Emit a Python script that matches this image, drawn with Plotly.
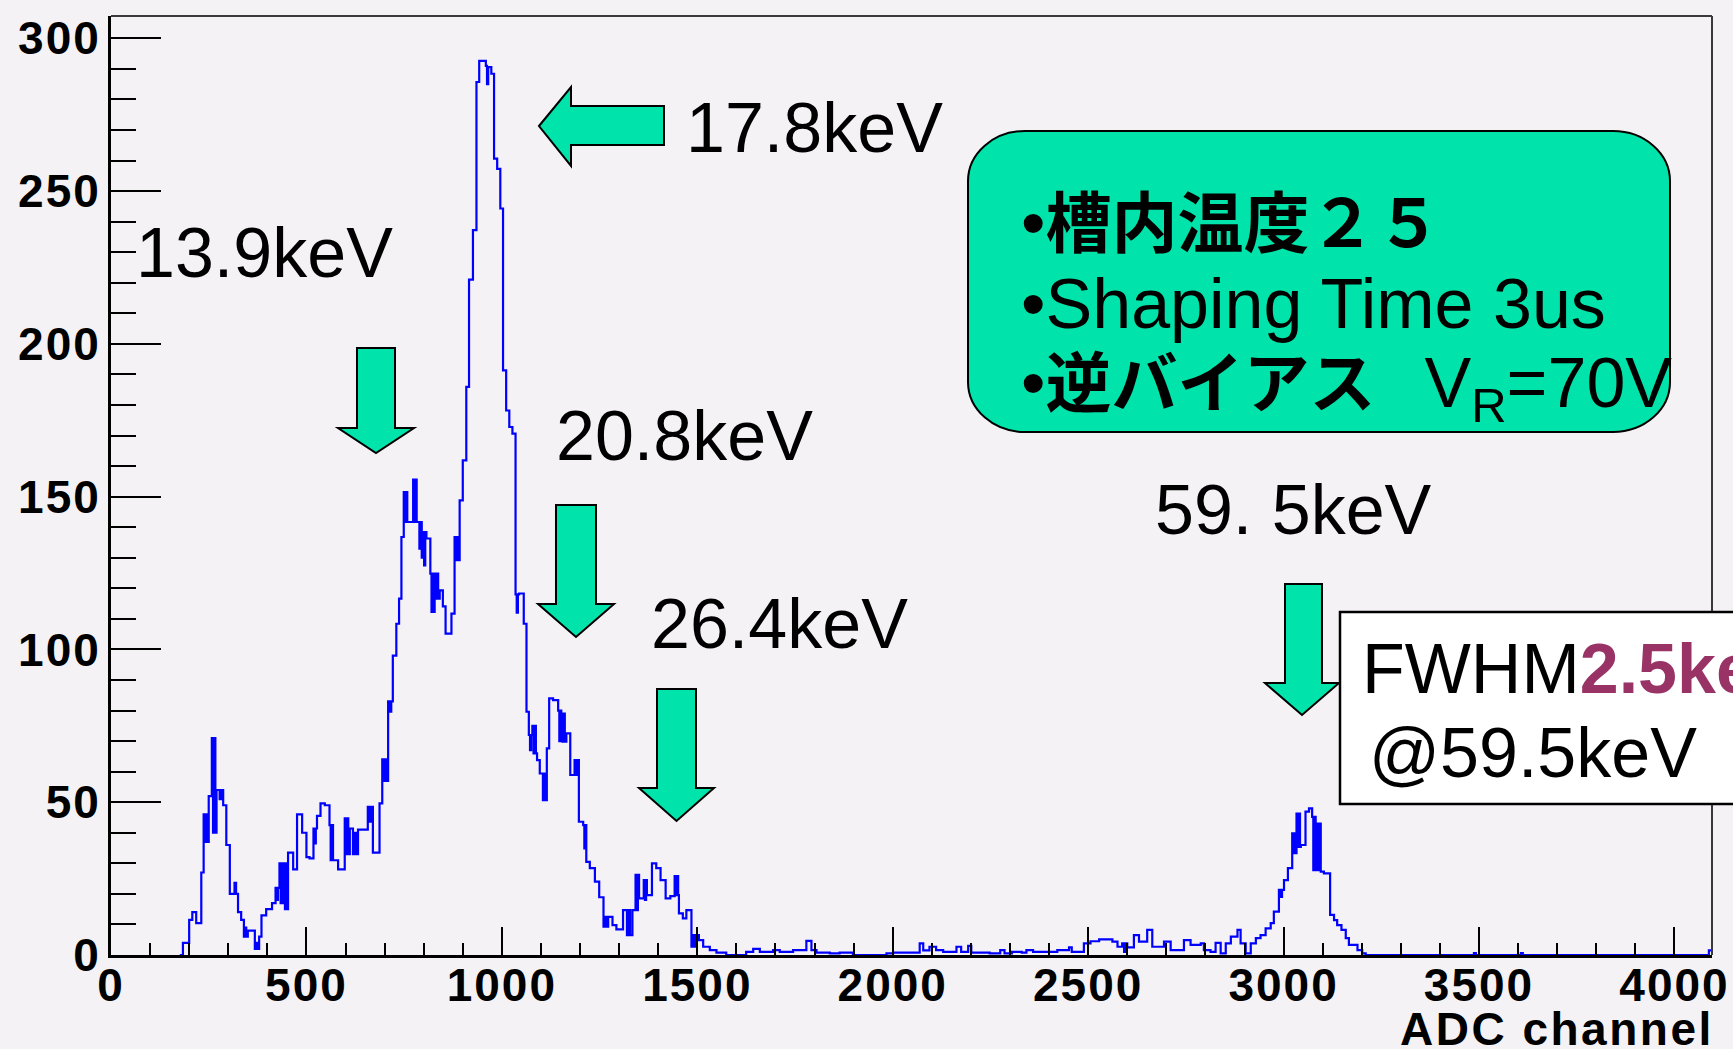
import plotly.graph_objects as go

# ---------------------------------------------------------------------------
# Spectrum data: [ADC channel (lower bin edge), counts]
# ---------------------------------------------------------------------------
escape_region = [
    [176, 0], [184, 4], [200, 11.5], [208, 14], [218, 10.4], [231, 27],
    [237, 46], [240, 37], [243, 46], [246, 37], [250, 52],
    [258, 71], [261, 40], [264, 71], [267, 40], [270, 54], [278, 51], [282, 54],
    [287, 49], [295, 36], [304, 20], [316, 23.6], [320, 20], [325, 14], [333, 11.5],
    [340, 6], [343, 9], [346, 6], [350, 8], [368, 2], [371, 4], [375, 2],
    [379, 6], [385, 13], [397, 15], [412, 17],
    [421, 22], [424, 18], [427, 22], [431, 30], [434, 17], [437, 30], [440, 17],
    [442, 30], [445, 15], [448, 30], [451, 15], [453, 33.5], [466, 28], [476, 46],
    [489, 40], [500, 32], [508, 31.6], [518, 41.4], [521, 36.5], [524, 41.4],
    [527, 45.5], [536, 49.6], [547, 49],
    [559, 42.5], [562, 31], [565, 42.5], [568, 31], [570, 31], [581, 28],
    [598, 44.7], [601, 33], [604, 44.7], [607, 33], [611, 41.4],
    [619, 33], [623, 40], [627, 33], [632, 41],
    [657, 48.5], [661, 43.6], [665, 48.5], [670, 33.5], [687, 49.6],
    [694, 64], [698, 57], [702, 64], [705, 57], [709, 83], [713, 79.6], [717, 83],
]

main_peaks = [
    [721, 98], [730, 108.4], [737, 116.6], [743, 136.8],
    [749, 151.5], [752, 141.7], [755, 151.5], [758, 141.7], [760, 141.7],
    [773, 155.6], [776, 141.7], [779, 155.6], [782, 141.7],
    [786, 141.7], [789, 133], [792, 141.7], [795, 130],
    [798, 138.4], [801, 127.5], [804, 138.4], [807, 136.3],
    [817, 124.8], [820, 112.3], [823, 124.8], [826, 112.3],
    [828, 124.8], [831, 116.6], [834, 124.8], [837, 116.6],
    [841, 119.3], [849, 114.1], [856, 105.2], [871, 111.7],
    [879, 136.8], [882, 129.2], [885, 136.8], [888, 129.2],
    [892, 148.8], [900, 161.9], [909, 185.9], [916, 221], [926, 237.2],
    [935, 285.7], [942, 292.6], [959, 291], [962, 285], [965, 290.6],
    [973, 288.4], [980, 260.6], [988, 257.3], [996, 244.3],
    [1003, 191.3], [1011, 178.2], [1019, 172.8], [1027, 170.6],
    [1035, 118], [1038, 112], [1041, 118], [1044, 118.3], [1056, 108.4], [1063, 79.6],
    [1069, 72], [1072, 67], [1075, 72], [1078, 75], [1081, 66], [1084, 75], [1087, 66],
    [1090, 63.8], [1097, 59.4], [1105, 50.7], [1108, 59.4], [1111, 50.7],
    [1115, 67.6], [1121, 84], [1131, 83.4],
    [1144, 80], [1147, 70], [1150, 80], [1152, 79], [1155, 69.8], [1158, 79], [1161, 69.8],
    [1165, 72.5], [1175, 58.9], [1186, 63.8], [1190, 58.9], [1193, 63.8],
    [1197, 43.6], [1208, 42.5], [1211, 34.9], [1214, 42.5], [1216, 30.5],
    [1225, 28.4], [1238, 24], [1249, 18.9],
]

l_line_tail = [
    [1260, 9.3], [1264, 12.5], [1268, 9.3], [1272, 12.5], [1283, 9.8], [1293, 8.4],
    [1310, 14.7], [1320, 6.5], [1324, 14.7], [1328, 6.5], [1334, 14.7],
    [1342, 26.2], [1345, 14.7], [1348, 26.2], [1351, 18.5], [1353, 18.5],
    [1363, 24.5], [1366, 18], [1369, 24.5], [1371, 19.6], [1384, 30], [1395, 28.4],
    [1406, 24.5], [1419, 18.5], [1431, 19.3],
    [1442, 25.8], [1445, 19.6], [1448, 25.8], [1451, 19.6], [1453, 13.6],
    [1463, 12], [1472, 14.7], [1485, 2.7], [1488, 6.5], [1491, 2.7], [1494, 6.5],
    [1496, 6.5], [1504, 4.9], [1515, 2.7], [1532, 1.6], [1549, 0.8], [1574, 0],
]

continuum = [
    [1625, 1], [1643, 2], [1660, 1], [1694, 1.6], [1711, 1], [1745, 1.6],
    [1779, 4.6], [1792, 1.6], [1805, 0.8], [1839, 0.5], [1864, 0.8], [1898, 0],
    [1984, 0.5], [2001, 0.8], [2069, 3.8], [2078, 1.5], [2094, 2.7], [2111, 1.6],
    [2129, 1], [2163, 2.7], [2175, 1], [2193, 3], [2201, 0.8], [2248, 0.5],
    [2275, 1.6], [2286, 0.5], [2305, 1], [2330, 0.8], [2342, 1.6], [2359, 1],
    [2421, 1.6], [2451, 2.5], [2458, 1], [2489, 3.8], [2506, 4.5], [2528, 5.1],
    [2562, 4.4], [2575, 2.7], [2587, 3.8], [2592, 1], [2596, 3.8], [2600, 2.5],
    [2617, 6.5], [2630, 4.4], [2651, 8.2], [2664, 2.7], [2694, 4.4], [2711, 1.6],
    [2745, 4.9], [2762, 3.3], [2788, 3.8], [2796, 1.6], [2813, 1], [2826, 4],
    [2839, 0.5], [2852, 3.8], [2865, 6], [2882, 8.2], [2890, 3.8], [2903, 0.5],
    [2916, 3.8], [2929, 5.5], [2941, 6.5], [2954, 8.7],
]

am241_peak = [
    [2967, 10.4], [2975, 14.2], [2988, 21.3], [2992, 19], [2996, 21.3],
    [3001, 24.5], [3011, 28.4],
    [3022, 39.8], [3025, 33.3], [3028, 39.8], [3031, 33.3],
    [3033, 46.3], [3036, 35.4], [3039, 46.3], [3042, 35.4],
    [3044, 36], [3056, 46.9], [3065, 48],
    [3073, 45.2], [3076, 27.8], [3079, 45.2], [3082, 27.8], [3085, 43], [3088, 27.8], [3091, 43],
    [3095, 27.3], [3103, 26.7], [3119, 13.1], [3129, 11.4], [3137, 9.8], [3148, 8.2],
    [3159, 5.5], [3167, 3.3], [3189, 1.6], [3201, 0.5], [3210, 0],
]

stray_counts = [[3487, 0.6], [3492, 0], [3607, 0.6], [3612, 0], [4088, 1.5]]

N_CHANNELS = 4096
Y_MAX = 307.3

x_ticks = [0, 500, 1000, 1500, 2000, 2500, 3000, 3500, 4000]
y_ticks = [0, 50, 100, 150, 200, 250, 300]

steps = escape_region + main_peaks + l_line_tail + continuum + am241_peak + stray_counts
edges = [s[0] for s in steps] + [N_CHANNELS]
counts = [s[1] for s in steps] + [steps[-1][1]]

# ---------------------------------------------------------------------------
# Page geometry (pixels) -> paper coordinates
# ---------------------------------------------------------------------------
W, H = 1733, 1049
L, R, T, B = 111, 1712, 16, 955


def px(x):
    return (x - L) / (R - L)


def py(y):
    return (B - y) / (B - T)


BG = "#f5f2f5"
MINT = "#00e3aa"
LATIN = "Liberation Sans, Arial, Helvetica, sans-serif"
CJK = "Noto Sans CJK JP"
WIDE = "letter-spacing:2px"

fig = go.Figure()
fig.add_trace(go.Scatter(
    x=edges, y=counts, mode="lines", line_shape="hv",
    line=dict(color="#0000ff", width=2.2), showlegend=False, hoverinfo="skip",
))

tick_font = dict(family=LATIN, size=46, color="black", weight="bold")

fig.update_layout(
    width=W, height=H,
    margin=dict(l=L, r=W - R, t=T, b=H - B, pad=0, autoexpand=False),
    paper_bgcolor=BG, plot_bgcolor=BG,
    showlegend=False,
    xaxis=dict(
        range=[0, N_CHANNELS], tickmode="array", tickvals=x_ticks,
        ticktext=[f'<span style="{WIDE}">{v}</span>' for v in x_ticks],
        showgrid=False, zeroline=False, automargin=False,
        showline=True, linecolor="black", linewidth=3,
        ticks="inside", ticklen=28, tickwidth=2.2, tickcolor="black",
        minor=dict(ticks="inside", ticklen=12, tickwidth=2.2, tickcolor="black",
                   dtick=100, tick0=0, showgrid=False),
        tickfont=tick_font, ticklabelstandoff=-12,
    ),
    yaxis=dict(
        range=[0, Y_MAX], tickmode="array", tickvals=y_ticks,
        ticktext=[f'<span style="{WIDE}">{v}</span>' for v in y_ticks],
        showgrid=False, zeroline=False, automargin=False,
        showline=True, linecolor="black", linewidth=3,
        ticks="inside", ticklen=50, tickwidth=2.2, tickcolor="black",
        minor=dict(ticks="inside", ticklen=25, tickwidth=2.2, tickcolor="black",
                   dtick=10, tick0=0, showgrid=False),
        tickfont=tick_font, ticklabelstandoff=-2,
    ),
)

shapes = []

# frame: top and right edges of the pad
shapes.append(dict(type="line", xref="paper", yref="paper", x0=0, x1=1, y0=1, y1=1,
                   line=dict(color="#3a3a3a", width=2)))
shapes.append(dict(type="line", xref="paper", yref="paper", x0=1, x1=1, y0=0, y1=1,
                   line=dict(color="#3a3a3a", width=2)))


def poly_path(points):
    return "M " + " L ".join(f"{px(x):.5f},{py(y):.5f}" for x, y in points) + " Z"


def down_arrow(bx0, bx1, top, base, hx0, hx1, tip):
    tx = (hx0 + hx1) / 2
    pts = [(bx0, top), (bx1, top), (bx1, base), (hx1, base), (tx, tip), (hx0, base), (bx0, base)]
    return dict(type="path", xref="paper", yref="paper", path=poly_path(pts),
                fillcolor=MINT, line=dict(color="black", width=2), layer="above")


def left_arrow(tip_x, tip_y, head_x, head_top, head_bot, body_top, body_bot, tail_x):
    pts = [(tip_x, tip_y), (head_x, head_top), (head_x, body_top), (tail_x, body_top),
           (tail_x, body_bot), (head_x, body_bot), (head_x, head_bot)]
    return dict(type="path", xref="paper", yref="paper", path=poly_path(pts),
                fillcolor=MINT, line=dict(color="black", width=2), layer="above")


shapes.append(left_arrow(539, 126, 571, 87, 166, 106, 145, 664))      # 17.8 keV
shapes.append(down_arrow(357, 395, 348, 428, 338, 414, 453))          # 13.9 keV
shapes.append(down_arrow(556, 596, 505, 604, 538, 614, 637))          # 20.8 keV
shapes.append(down_arrow(657, 696, 689, 788, 639, 714, 821))          # 26.4 keV
shapes.append(down_arrow(1285, 1322, 584, 683, 1265, 1339, 715))      # 59.5 keV


def rounded_rect(x0, y0, x1, y1, rx, ry):
    k = 0.5523

    def p(x, y):
        return f"{px(x):.5f},{py(y):.5f}"
    d = (f"M {p(x0 + rx, y0)} L {p(x1 - rx, y0)} "
         f"C {p(x1 - rx + k * rx, y0)} {p(x1, y0 + ry - k * ry)} {p(x1, y0 + ry)} "
         f"L {p(x1, y1 - ry)} "
         f"C {p(x1, y1 - ry + k * ry)} {p(x1 - rx + k * rx, y1)} {p(x1 - rx, y1)} "
         f"L {p(x0 + rx, y1)} "
         f"C {p(x0 + rx - k * rx, y1)} {p(x0, y1 - ry + k * ry)} {p(x0, y1 - ry)} "
         f"L {p(x0, y0 + ry)} "
         f"C {p(x0, y0 + ry - k * ry)} {p(x0 + rx - k * rx, y0)} {p(x0 + rx, y0)} Z")
    return d


shapes.append(dict(type="path", xref="paper", yref="paper",
                   path=rounded_rect(968, 131, 1670, 432, 57, 50),
                   fillcolor=MINT, line=dict(color="black", width=2), layer="above"))

# resolution box (runs off the right edge of the page)
shapes.append(dict(type="rect", xref="paper", yref="paper",
                   x0=px(1340), x1=px(1760), y0=py(612), y1=py(804),
                   fillcolor="white", line=dict(color="black", width=2.5), layer="above"))

fig.update_layout(shapes=shapes)

annotations = []


def label(text, x, baseline, size=70, asc=0.3465, family=LATIN, color="black"):
    annotations.append(dict(
        text=text, xref="paper", yref="paper", x=px(x - 1), y=py(baseline - asc * size),
        xanchor="left", yanchor="middle", showarrow=False, align="left",
        font=dict(family=family, size=size, color=color),
    ))


label("17.8keV", 685, 152)
label("13.9keV", 135, 277)
label("20.8keV", 555, 460)
label("26.4keV", 650, 648)
label("59. 5keV", 1154, 534)

cjk = f'font-family:{CJK};font-size:66px'
label(f'•<span style="{cjk}"><b>槽内温度２５</b></span>', 1020, 248, asc=0.43)
label("•Shaping Time 3us", 1020, 328)
label(f'•<span style="{cjk}"><b>逆バイアス</b></span>\u2002\u2009V<sub>R</sub>=70V',
      1020, 411.5, asc=0.43)

label('FWHM<span style="color:#993366"><b>2.5keV</b></span>', 1361, 693)
label("@59.5keV", 1368, 777)

annotations.append(dict(
    text='<span style="letter-spacing:2.5px"><b>ADC channel</b></span>',
    xref="paper", yref="paper",
    x=px(1716), y=py(1045 - 0.3465 * 46), xanchor="right", yanchor="middle",
    showarrow=False, font=dict(family=LATIN, size=46, color="black"),
))

fig.update_layout(annotations=annotations)

fig.write_html("out.html")
